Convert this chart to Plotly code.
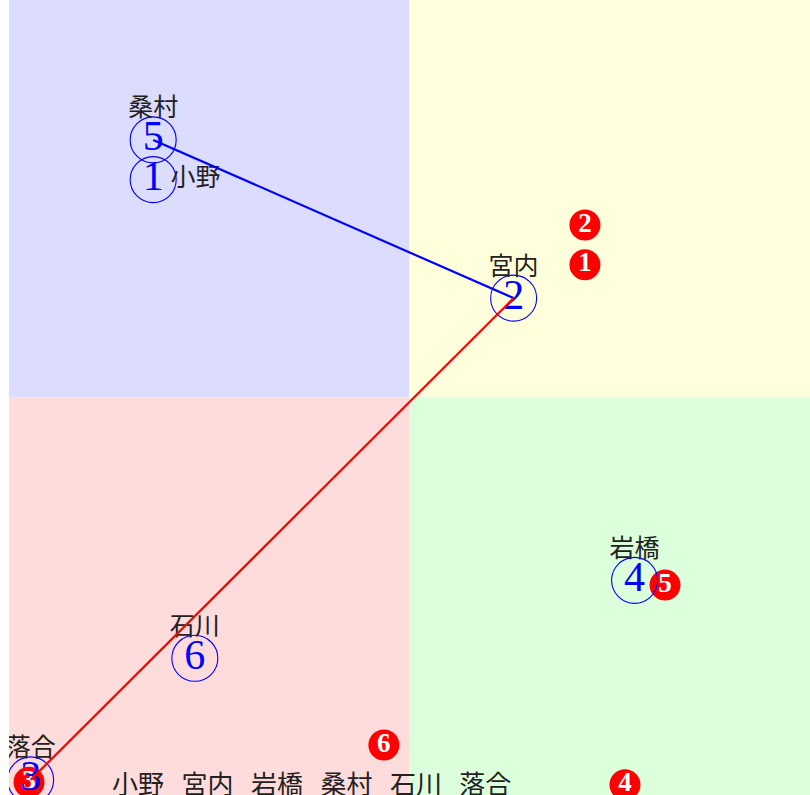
import plotly.graph_objects as go

# people, in order of their number
names = ["小野", "宮内", "落合", "岩橋", "桑村", "石川"]
numbers = ["1", "2", "3", "4", "5", "6"]

# blue (open circle) positions
blue_x = [1.80, 6.30, 0.27, 7.81, 1.80, 2.32]
blue_y = [7.74, 6.25, 0.19, 2.70, 8.24, 1.72]

# red (filled circle) positions
red_x = [7.19, 7.19, 0.25, 7.69, 8.19, 4.68]
red_y = [6.67, 7.17, 0.16, 0.13, 2.64, 0.63]

label_pos = ["middle right", "top center", "top center", "top center", "top center", "top center"]

# links between blue points (by index)
blue_link = [4, 1]
red_link = [1, 2]

bottom_words = ["小野", "宮内", "岩橋", "桑村", "石川", "落合"]

x_min, x_max, x_mid = 0, 10, 5
y_min, y_max, y_mid = 0, 10, 5

quadrants = [
    (x_min, x_mid, y_mid, y_max, "#dcdcff"),
    (x_mid, x_max, y_mid, y_max, "#ffffdc"),
    (x_min, x_mid, y_min, y_mid, "#ffdcdc"),
    (x_mid, x_max, y_min, y_mid, "#dcffdc"),
]

serif = "Liberation Serif, DejaVu Serif, serif"
cjk = "Noto Sans CJK JP, Noto Sans CJK SC, sans-serif"

fig = go.Figure()

for x0, x1, y0, y1, col in quadrants:
    fig.add_shape(type="rect", xref="x", yref="y", x0=x0, x1=x1, y0=y0, y1=y1,
                  fillcolor=col, line_width=0, layer="below")

# red filled numbers
fig.add_trace(go.Scatter(
    x=red_x, y=red_y, mode="markers+text",
    marker=dict(symbol="circle", size=31, color="#ff0000"),
    text=["<b>%s</b>" % n for n in numbers], textposition="middle center",
    textfont=dict(family=serif, size=27, color="white"),
    hoverinfo="skip",
))

# blue circled numbers
fig.add_trace(go.Scatter(
    x=blue_x, y=blue_y, mode="markers+text",
    marker=dict(symbol="circle-open", size=46, color="#0000ff", line=dict(width=1.1, color="#0000ff")),
    text=numbers, textposition="middle center",
    textfont=dict(family=serif, size=42, color="#0000ff"),
    hoverinfo="skip",
))

# name labels
fig.add_trace(go.Scatter(
    x=blue_x, y=blue_y, mode="markers+text",
    marker=dict(size=26, color="rgba(0,0,0,0)"),
    text=names, textposition=label_pos,
    textfont=dict(family=cjk, size=25, color="#222222"),
    hoverinfo="skip",
))

# link lines
fig.add_trace(go.Scatter(
    x=[blue_x[i] for i in blue_link], y=[blue_y[i] for i in blue_link],
    mode="lines", line=dict(color="#0000ff", width=2.2), hoverinfo="skip",
))
fig.add_trace(go.Scatter(
    x=[blue_x[i] for i in red_link], y=[blue_y[i] for i in red_link],
    mode="lines", line=dict(color="#ff0000", width=2.2), hoverinfo="skip",
))

fig.add_annotation(text="\u00a0\u00a0\u00a0".join(bottom_words), xref="paper", yref="paper",
                   x=0.378, y=0.016, xanchor="center", yanchor="middle", showarrow=False,
                   font=dict(family=cjk, size=26, color="#222222"))

fig.update_xaxes(range=[x_min, x_max], visible=False, showgrid=False, zeroline=False)
fig.update_yaxes(range=[y_min, y_max], visible=False, showgrid=False, zeroline=False)
fig.update_layout(
    width=810, height=795,
    margin=dict(l=9, r=0, t=0, b=0),
    paper_bgcolor="white", plot_bgcolor="white",
    showlegend=False,
)

fig.write_html("out.html", config={"displayModeBar": False},
               post_script="document.body.style.margin='0';")
